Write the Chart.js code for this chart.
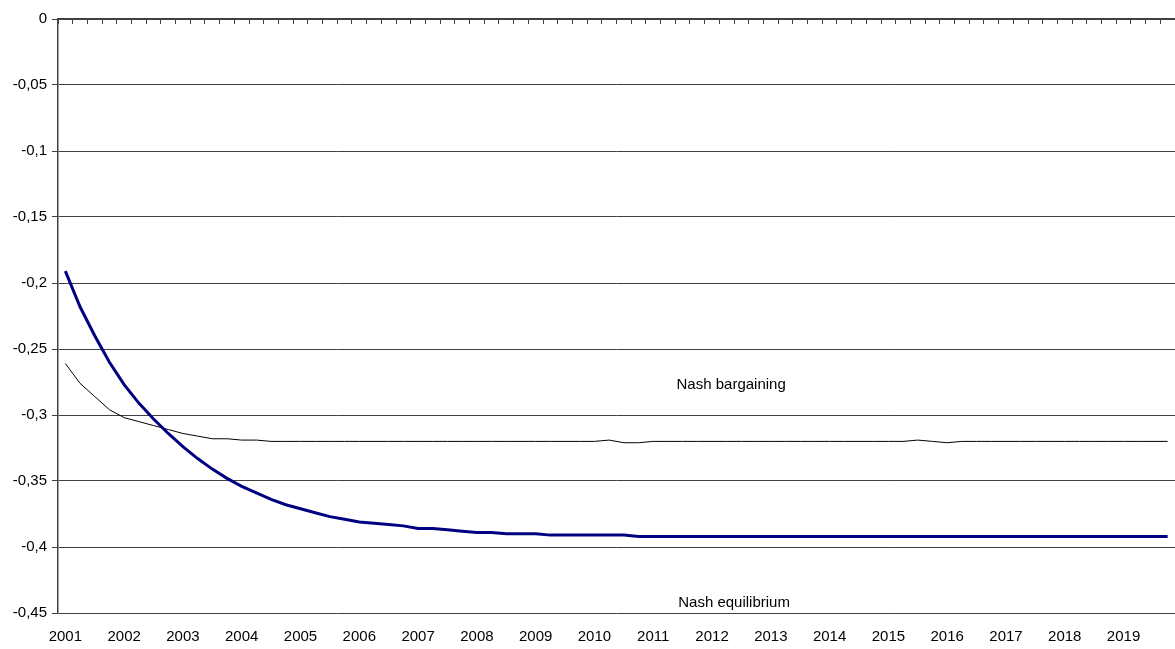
<!DOCTYPE html>
<html><head><meta charset="utf-8">
<script src="https://cdn.jsdelivr.net/npm/chart.js@4.4.1/dist/chart.umd.min.js"></script>
<style>html,body{margin:0;padding:0;background:#fff;} canvas{display:block;}</style>
</head><body>
<canvas id="c" width="1175" height="649"></canvas>
<script>
const years = ['2001','2002','2003','2004','2005','2006','2007','2008','2009','2010',
               '2011','2012','2013','2014','2015','2016','2017','2018','2019'];
// quarterly categories: year label on the first quarter only
const categories = years.flatMap(y => [y, '', '', '']);

const nashEquilibrium = [
  -0.191,-0.218,-0.240,-0.260,-0.277,-0.291,-0.303,-0.314,-0.324,-0.333,
  -0.341,-0.348,-0.354,-0.359,-0.364,-0.368,-0.371,-0.374,-0.377,-0.379,
  -0.381,-0.382,-0.383,-0.384,-0.386,-0.386,-0.387,-0.388,-0.389,-0.389,
  -0.390,-0.390,-0.390,-0.391,-0.391,-0.391,-0.391,-0.391,-0.391,-0.392,
  -0.392,-0.392,-0.392,-0.392,-0.392,-0.392,-0.392,-0.392,-0.392,-0.392,
  -0.392,-0.392,-0.392,-0.392,-0.392,-0.392,-0.392,-0.392,-0.392,-0.392,
  -0.392,-0.392,-0.392,-0.392,-0.392,-0.392,-0.392,-0.392,-0.392,-0.392,
  -0.392,-0.392,-0.392,-0.392,-0.392,-0.392
];
const nashBargaining = [
  -0.261,-0.276,-0.286,-0.296,-0.302,-0.305,-0.308,-0.311,-0.314,-0.316,
  -0.318,-0.318,-0.319,-0.319,-0.320,-0.320,-0.320,-0.320,-0.320,-0.320,
  -0.320,-0.320,-0.320,-0.320,-0.320,-0.320,-0.320,-0.320,-0.320,-0.320,
  -0.320,-0.320,-0.320,-0.320,-0.320,-0.320,-0.320,-0.319,-0.321,-0.321,
  -0.320,-0.320,-0.320,-0.320,-0.320,-0.320,-0.320,-0.320,-0.320,-0.320,
  -0.320,-0.320,-0.320,-0.320,-0.320,-0.320,-0.320,-0.320,-0.319,-0.320,
  -0.321,-0.320,-0.320,-0.320,-0.320,-0.320,-0.320,-0.320,-0.320,-0.320,
  -0.320,-0.320,-0.320,-0.320,-0.320,-0.320
];
const seriesNames = ['Nash equilibrium', 'Nash bargaining'];
const yTicks = { min: -0.45, max: 0, step: 0.05 };

const notes = [
  { text: 'Nash bargaining', cat: 45.3, value: -0.277 },
  { text: 'Nash equilibrium', cat: 45.5, value: -0.4425 }
];

const FONT = '"Liberation Sans", Arial, sans-serif';
const GRID = '#404040';

const notesPlugin = {
  id: 'notes',
  afterDatasetsDraw(chart) {
    const { ctx, scales: { x, y } } = chart;
    ctx.save();
    ctx.font = '15px ' + FONT;
    ctx.fillStyle = '#000';
    ctx.textAlign = 'center';
    ctx.textBaseline = 'middle';
    notes.forEach(n => ctx.fillText(n.text, x.getPixelForValue(n.cat), y.getPixelForValue(n.value)));
    ctx.restore();
  }
};

function noSidePadding(s) { s.paddingLeft = 0; s.paddingRight = 0; }

new Chart(document.getElementById('c'), {
  type: 'line',
  data: {
    labels: categories,
    datasets: [
      { label: seriesNames[0], data: nashEquilibrium, borderColor: '#000080', borderWidth: 3,
        pointRadius: 0, tension: 0, fill: false },
      { label: seriesNames[1], data: nashBargaining, borderColor: '#000000', borderWidth: 1,
        pointRadius: 0, tension: 0, fill: false }
    ]
  },
  options: {
    responsive: false,
    animation: false,
    layout: { padding: 0 },
    plugins: { legend: { display: false }, tooltip: { enabled: false } },
    scales: {
      x: {
        type: 'category',
        position: 'bottom',
        offset: true,
        grid: { display: false, drawTicks: false },
        border: { display: false },
        ticks: { autoSkip: false, maxRotation: 0, padding: 15, color: '#000',
                 font: { family: FONT, size: 15 } },
        afterFit(s) { s.height = 36; noSidePadding(s); }
      },
      x2: {
        type: 'category',
        position: 'top',
        offset: true,
        grid: { offset: true, drawOnChartArea: false, drawTicks: true, tickLength: -5, color: GRID, lineWidth: 1 },
        border: { display: true, color: GRID, width: 1.5 },
        ticks: { display: false },
        afterFit(s) { s.height = 19; noSidePadding(s); }
      },
      y: {
        min: yTicks.min, max: yTicks.max,
        grid: { color: GRID, lineWidth: 1, tickLength: 6, drawTicks: true },
        border: { display: true, color: GRID, width: 1.5 },
        ticks: { stepSize: yTicks.step, padding: 5, color: '#000', font: { family: FONT, size: 15 },
                 callback: v => (Math.round(v * 100) / 100).toString().replace('.', ',') },
        afterFit(s) { s.width = 58; }
      }
    }
  },
  plugins: [notesPlugin]
});
</script>
</body></html>
